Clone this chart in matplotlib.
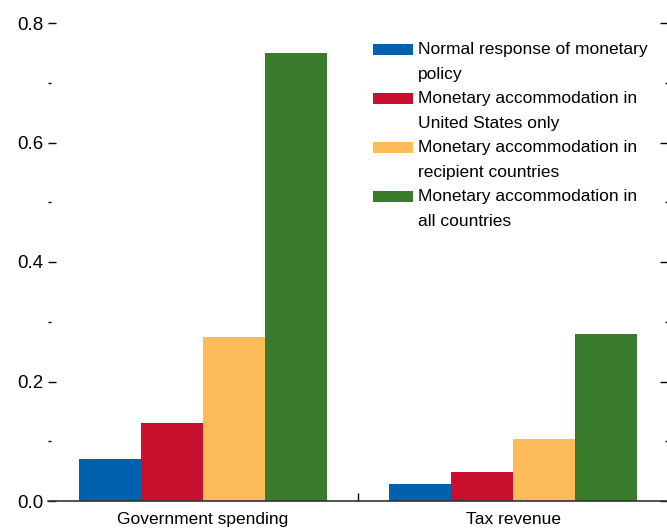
import matplotlib
matplotlib.use('Agg')
import matplotlib.pyplot as plt
import matplotlib.patches as mpatches
from matplotlib.container import BarContainer
from matplotlib.legend_handler import HandlerPatch, update_from_first_child
import numpy as np

plt.rcParams['font.family'] = ['Liberation Sans Narrow', 'Liberation Sans', 'DejaVu Sans']

categories = ['Government spending', 'Tax revenue']
series = ['Normal response of monetary\npolicy',
          'Monetary accommodation in\nUnited States only',
          'Monetary accommodation in\nrecipient countries',
          'Monetary accommodation in\nall countries']
normal = [0.07, 0.028]
us_only = [0.13, 0.049]
recipient = [0.275, 0.104]
all_countries = [0.75, 0.28]
colors = ['#0062ae', '#c8102e', '#fdbb5a', '#3a7b2d']


# legend swatch sits next to the first line of the label, not the middle
def top_patch(legend, orig_handle, xdescent, ydescent, width, height, fontsize):
    return mpatches.Rectangle((-xdescent, -ydescent + 8.9), width, height)


fig = plt.figure(figsize=(6.67, 5.29), dpi=100)
ax = fig.add_axes([48 / 667, 28 / 529, 620 / 667, 478 / 529])

x = np.arange(len(categories))
w = 0.2
for i, (vals, lab) in enumerate(zip([normal, us_only, recipient, all_countries], series)):
    ax.bar(x + (i - 1.5) * w, vals, w, color=colors[i], label=lab)

ax.set_xlim(-0.5, 1.5)
ax.set_ylim(0, 0.8)
ax.set_yticks([0, 0.2, 0.4, 0.6, 0.8])
ax.set_yticklabels(['0.0', '0.2', '0.4', '0.6', '0.8'])
ax.set_yticks([0.1, 0.3, 0.5, 0.7], minor=True)
ax.tick_params(axis='y', which='major', direction='in', length=6, width=1, labelsize=13.5,
               right=True, labelright=False, pad=3.5)
ax.tick_params(axis='y', which='minor', direction='in', length=2, width=1, right=True)
ax.set_xticks(x)
ax.set_xticklabels(categories)
ax.set_xticks([0.5], minor=True)
ax.tick_params(axis='x', which='major', length=0, labelsize=12.5, pad=8)
ax.tick_params(axis='x', which='minor', direction='in', length=6, width=1)

for s in ['left', 'right', 'top']:
    ax.spines[s].set_visible(False)
ax.spines['bottom'].set_color('#333333')
ax.spines['bottom'].set_linewidth(1.2)

handler = HandlerPatch(patch_func=top_patch, update_func=update_from_first_child)
leg = ax.legend(loc='upper left', bbox_to_anchor=(0.524, 0.961), frameon=False, fontsize=12.5,
                handlelength=2.3, handleheight=0.6, handletextpad=0.3, labelspacing=0.52,
                borderaxespad=0, borderpad=0,
                handler_map={BarContainer: handler})
for t in leg.get_texts():
    t.set_linespacing(1.83)

fig.savefig('out.png', dpi=100)
